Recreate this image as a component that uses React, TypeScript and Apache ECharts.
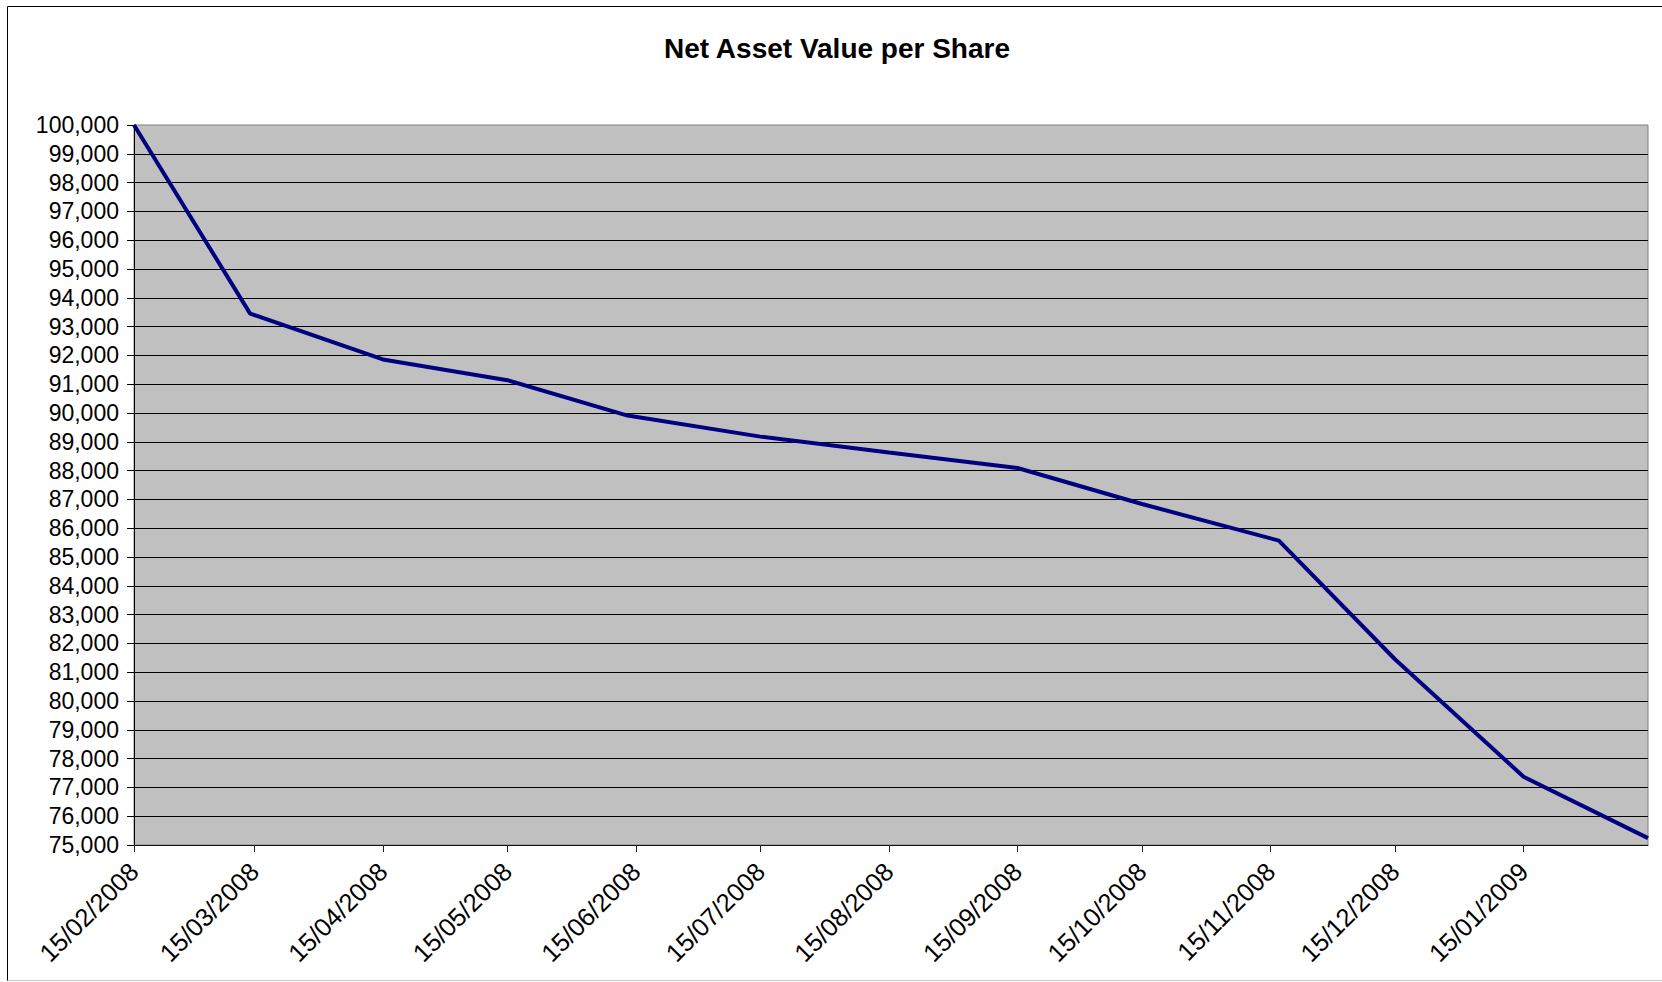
import React, { useEffect, useRef } from "react";
import * as echarts from "echarts";

const chartTitle = "Net Asset Value per Share";

// Observation dates (ISO) and NAV per share values
const pointDates = [
  "2008-02-15",
  "2008-03-14",
  "2008-04-15",
  "2008-05-15",
  "2008-06-13",
  "2008-07-15",
  "2008-08-15",
  "2008-09-15",
  "2008-10-15",
  "2008-11-17",
  "2008-12-15",
  "2009-01-15",
  "2009-02-14",
];
const navValues = [
  100000, 93450, 91860, 91140, 89910, 89180, 88630, 88090, 86840, 85570, 81450,
  77370, 75240,
];

// X tick labels (dd/mm/yyyy)
const xTickLabels = [
  "15/02/2008",
  "15/03/2008",
  "15/04/2008",
  "15/05/2008",
  "15/06/2008",
  "15/07/2008",
  "15/08/2008",
  "15/09/2008",
  "15/10/2008",
  "15/11/2008",
  "15/12/2008",
  "15/01/2009",
];
const xAxisStart = "2008-02-15";
const xAxisEnd = "2009-02-14";

const yMin = 75000;
const yMax = 100000;
const yStep = 1000;

const FONT = "'Liberation Sans', Arial, Helvetica, sans-serif";

function isoToTs(s: string): number {
  const [y, m, d] = s.split("-").map(Number);
  return Date.UTC(y, m - 1, d);
}
function labelToTs(s: string): number {
  const [d, m, y] = s.split("/").map(Number);
  return Date.UTC(y, m - 1, d);
}
function pad(n: number): string {
  return n < 10 ? "0" + n : String(n);
}
function tsToLabel(v: number): string {
  const dt = new Date(v);
  return `${pad(dt.getUTCDate())}/${pad(dt.getUTCMonth() + 1)}/${dt.getUTCFullYear()}`;
}

export default function App() {
  const ref = useRef<HTMLDivElement>(null);

  useEffect(() => {
    document.body.style.margin = "0";
    if (!ref.current) return;
    const chart = echarts.init(ref.current, null, { renderer: "svg" });

    const tickValues = xTickLabels.map(labelToTs);
    const seriesData = pointDates.map((d, i) => [isoToTs(d), navValues[i]]);

    chart.setOption({
      animation: false,
      backgroundColor: "#ffffff",
      textStyle: { fontFamily: FONT },
      graphic: [
        {
          type: "line",
          shape: { x1: 7.5, y1: 6.5, x2: 1662, y2: 6.5 },
          style: { stroke: "#000", lineWidth: 1 },
          silent: true,
        },
        {
          type: "line",
          shape: { x1: 7.5, y1: 6.5, x2: 7.5, y2: 981 },
          style: { stroke: "#000", lineWidth: 1 },
          silent: true,
        },
        {
          type: "line",
          shape: { x1: 7.5, y1: 980.5, x2: 1662, y2: 980.5 },
          style: { stroke: "#c8c8c8", lineWidth: 1 },
          silent: true,
        },
        {
          type: "text",
          x: 837,
          y: 48,
          style: {
            text: chartTitle,
            fontFamily: FONT,
            fontSize: 28,
            fontWeight: "bold",
            fill: "#000",
            textAlign: "center",
            textVerticalAlign: "middle",
          },
          silent: true,
        },
      ],
      grid: {
        left: 134,
        right: 14,
        top: 125,
        bottom: 137,
        show: true,
        backgroundColor: "#c0c0c0",
        borderColor: "#808080",
        borderWidth: 1,
        containLabel: false,
        outerBoundsMode: "none",
      },
      xAxis: {
        type: "value",
        min: isoToTs(xAxisStart),
        max: isoToTs(xAxisEnd),
        splitLine: { show: false },
        axisLine: { show: true, lineStyle: { color: "#111", width: 1 } },
        axisTick: {
          show: true,
          length: 7,
          inside: false,
          lineStyle: { color: "#222", width: 1 },
          customValues: tickValues,
        },
        axisLabel: {
          show: true,
          rotate: 45,
          margin: 22,
          fontSize: 25.5,
          fontFamily: FONT,
          color: "#000",
          customValues: tickValues,
          formatter: (v: number) => tsToLabel(v),
        },
      },
      yAxis: {
        type: "value",
        min: yMin,
        max: yMax,
        interval: yStep,
        axisLine: { show: true, lineStyle: { color: "#000", width: 1 } },
        axisTick: {
          show: true,
          length: 7,
          inside: false,
          lineStyle: { color: "#000", width: 1 },
        },
        splitLine: {
          show: true,
          showMaxLine: false,
          lineStyle: { color: "#000", width: 1 },
        },
        axisLabel: {
          show: true,
          margin: 15,
          fontSize: 23,
          fontFamily: FONT,
          color: "#000",
          formatter: (v: number) => v.toLocaleString("en-US"),
        },
      },
      series: [
        {
          type: "line",
          data: seriesData,
          showSymbol: false,
          symbol: "none",
          lineStyle: { color: "#000080", width: 4 },
          itemStyle: { color: "#000080" },
          z: 3,
        },
      ],
    });

    return () => {
      chart.dispose();
    };
  }, []);

  return (
    <div
      ref={ref}
      style={{
        position: "absolute",
        left: 0,
        top: 0,
        width: 1662,
        height: 982,
        background: "#fff",
      }}
    />
  );
}
